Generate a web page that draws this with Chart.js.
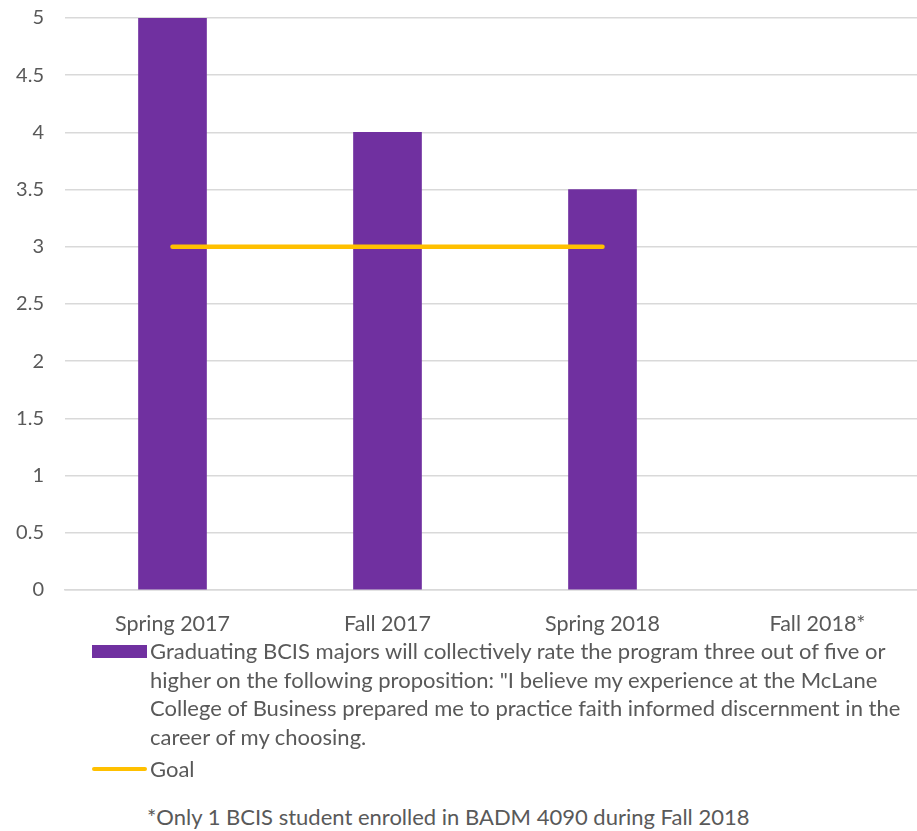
<!DOCTYPE html>
<html lang="en">
<head>
    <meta charset="UTF-8">
    <title>BCIS Program Rating</title>
    <script src="https://cdn.jsdelivr.net/npm/chart.js@4.4.0/dist/chart.umd.min.js"></script>
    <style>
        html, body { margin: 0; padding: 0; background: #fff; overflow: hidden; }
        body { width: 917px; height: 831px; position: relative; font-family: Lato, "Open Sans", sans-serif; color: #595959; }
        #wrap { position: absolute; left: 0; top: 0; width: 925px; height: 640px; }
        #legend { position: absolute; left: 92px; top: 637px; width: 824px; }
        .item { display: flex; align-items: flex-start; font-size: 22px; line-height: 28.6px; }
        .swatch { flex: 0 0 55px; height: 13px; margin-top: 8px; margin-right: 3px; }
        .line-swatch { flex: 0 0 55px; height: 4px; margin-top: 12px; margin-right: 3px; border-radius: 2px; }
        .item + .item { margin-top: 4px; }
        #note { position: absolute; left: 147px; top: 803px; font-size: 22px; }
    </style>
</head>
<body>
    <div id="wrap"><canvas id="chart" width="925" height="640"></canvas></div>
    <div id="legend"></div>
    <div id="note">*Only 1 BCIS student enrolled in BADM 4090 during Fall 2018</div>

    <script>
        const terms = ['Spring 2017', 'Fall 2017', 'Spring 2018', 'Fall 2018*'];
        const ratings = [5, 4, 3.5, null];
        const goal = [3, 3, 3, null];
        const yTicks = [0, 0.5, 1, 1.5, 2, 2.5, 3, 3.5, 4, 4.5, 5];

        const ratingLabel = 'Graduating BCIS majors will collectively rate the program three out of five or higher on the following proposition: "I believe my experience at the McLane College of Business prepared me to practice faith informed discernment in the career of my choosing.';

        const grey = '#595959';

        const chart = new Chart(document.getElementById('chart'), {
            type: 'bar',
            data: {
                labels: terms,
                datasets: [
                    {
                        type: 'line',
                        label: 'Goal',
                        data: goal,
                        borderColor: '#FFC000',
                        backgroundColor: '#FFC000',
                        borderWidth: 4.5,
                        borderCapStyle: 'round',
                        pointRadius: 0,
                        order: 0
                    },
                    {
                        label: ratingLabel,
                        data: ratings,
                        backgroundColor: '#7030A0',
                        barThickness: 68,
                        order: 1
                    }
                ]
            },
            options: {
                responsive: false,
                animation: false,
                layout: { padding: { top: 18, right: 0, bottom: 0, left: 0 } },
                plugins: {
                    legend: { display: false },
                    tooltip: { enabled: false }
                },
                scales: {
                    x: {
                        grid: { display: false },
                        border: { color: '#D9D9D9', width: 1.5 },
                        ticks: { color: grey, font: { family: 'Lato', size: 21.5 }, padding: 13, maxRotation: 0 },
                        afterFit: (s) => { s.height = 50; }
                    },
                    y: {
                        min: 0,
                        max: 5,
                        afterBuildTicks: (s) => { s.ticks = yTicks.map(v => ({ value: v })); },
                        grid: { color: '#D9D9D9', lineWidth: 1.5, drawTicks: false },
                        border: { display: false },
                        ticks: { color: grey, font: { family: 'Lato', size: 20 }, padding: 21, callback: (v) => String(v) },
                        // fixed axis width, and no extra room reserved for the top label
                        afterFit: (s) => { s.width = 65; s.paddingTop = 0; s.paddingBottom = 0; }
                    }
                }
            }
        });

        // legend below the plot, bars first then the goal line
        const legend = document.getElementById('legend');
        [chart.data.datasets[1], chart.data.datasets[0]].forEach(ds => {
            const row = document.createElement('div');
            row.className = 'item';
            const sw = document.createElement('span');
            sw.className = ds.type === 'line' ? 'line-swatch' : 'swatch';
            sw.style.background = ds.type === 'line' ? ds.borderColor : ds.backgroundColor;
            const txt = document.createElement('span');
            txt.textContent = ds.label;
            row.appendChild(sw);
            row.appendChild(txt);
            legend.appendChild(row);
        });
    </script>
</body>
</html>
